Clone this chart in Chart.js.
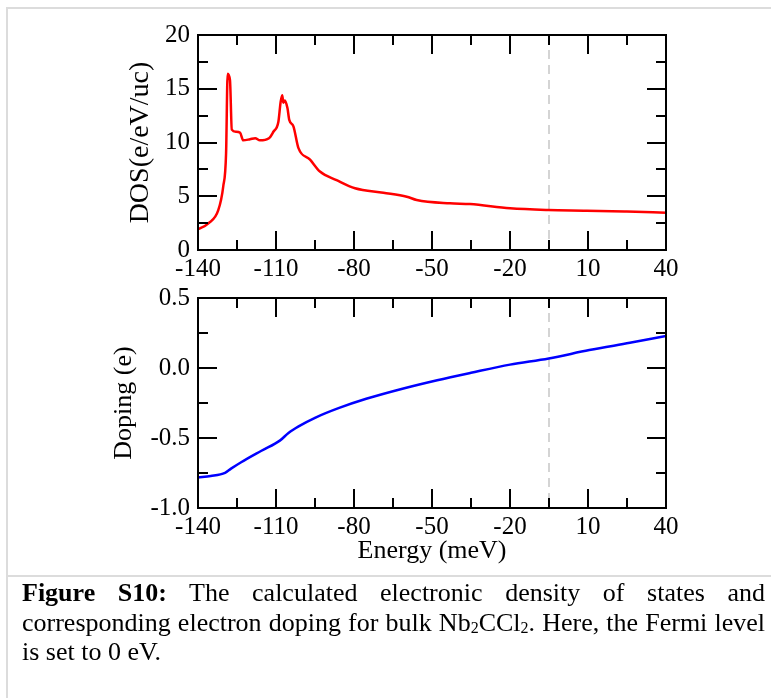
<!DOCTYPE html>
<html>
<head>
<meta charset="utf-8">
<script src="https://cdn.jsdelivr.net/npm/chart.js@4.4.0/dist/chart.umd.min.js"></script>
<style>
body{margin:0;background:#fff;width:771px;height:698px;overflow:hidden;position:relative;font-family:"Liberation Serif",serif;}
#frame{position:absolute;left:6px;top:7px;width:765px;height:700px;border-left:2px solid #dcdcdc;border-top:2px solid #dcdcdc;}
#sep{position:absolute;left:6px;top:575px;width:765px;border-top:2px solid #dcdcdc;}
canvas{position:absolute;left:0;}
#dosChart{top:0;}
#dopChart{top:275px;}
#caption{position:absolute;left:22px;top:578px;width:743px;font-size:26px;line-height:29.5px;color:#000;}
#caption div{white-space:nowrap;}
#caption .j{text-align:justify;text-align-last:justify;white-space:normal;}
#caption sub{font-size:16px;vertical-align:-2px;line-height:0;}
</style>
</head>
<body>
<div id="frame"></div>
<canvas id="dosChart" width="771" height="285"></canvas>
<canvas id="dopChart" width="771" height="300"></canvas>
<div id="sep"></div>
<div id="caption">
  <div class="j"><b>Figure S10:</b> The calculated electronic density of states and</div>
  <div class="j">corresponding electron doping for bulk Nb<sub>2</sub>CCl<sub>2</sub>. Here, the Fermi level</div>
  <div>is set to 0 eV.</div>
</div>
<script>
// x axis (meV)
const xTicks = [-140, -110, -80, -50, -20, 10, 40];
const fermiEnergy = -5;

// DOS panel
const dosEnergy = [-140, -136, -132.2, -130.3, -129.2, -128.6, -127.7, -127, -125.4, -123.8,
    -122.6, -120, -118, -116.2, -112.7, -111, -109.1, -108.2, -107.6, -107.2,
    -106.6, -105.6, -104.9, -103.3, -101.4, -96.9, -93.1, -86.7, -79.6, -68.7,
    -59.7, -55.9, -43.1, -35.4, -20, -5.3, 9.5, 24.9, 40];
const dosValue = [1.93, 2.48, 3.7, 5.9, 9.0, 16.4, 15.8, 11.2, 11.0, 10.9,
    10.2, 10.3, 10.4, 10.2, 10.4, 11.0, 11.9, 13.8, 14.4, 13.7,
    13.9, 13.2, 12.1, 11.5, 9.5, 8.4, 7.3, 6.5, 5.74, 5.33,
    4.96, 4.65, 4.34, 4.28, 3.88, 3.72, 3.66, 3.57, 3.47];
const dosTicks = [0, 5, 10, 15, 20];

// Doping panel
const dopEnergy = [-140, -135.1, -129.6, -127.3, -123.4, -115.6, -108.4, -105.2, -101.3, -94.8,
    -85.7, -75.3, -61, -48, -35, -20, -5.1, 10.5, 26.1, 40];
const dopValue = [-0.782, -0.772, -0.749, -0.719, -0.673, -0.591, -0.517, -0.464, -0.417, -0.354,
    -0.285, -0.220, -0.146, -0.087, -0.034, 0.024, 0.068, 0.128, 0.180, 0.228];
const dopTicks = [-1.0, -0.5, 0.0, 0.5];

const serif = 'Liberation Serif';

// frame, inward ticks (major + minor) and the dashed Fermi line
const framePlugin = {
    id: 'framePlugin',
    beforeDatasetsDraw(chart) {
        const {ctx, chartArea: a, scales: {x}} = chart;
        const fx = x.getPixelForValue(fermiEnergy);
        ctx.save();
        ctx.strokeStyle = '#d4d4d4';
        ctx.lineWidth = 2;
        ctx.setLineDash([9, 6]);
        ctx.beginPath();
        ctx.moveTo(fx, a.top);
        ctx.lineTo(fx, a.bottom);
        ctx.stroke();
        ctx.restore();
    },
    afterDatasetsDraw(chart) {
        const {ctx, chartArea: a, scales: {x, y}} = chart;
        ctx.save();
        ctx.strokeStyle = '#000';
        ctx.lineWidth = 2;
        ctx.beginPath();
        const marks = (vals) => {
            const out = [];
            vals.forEach((v, i) => {
                out.push([v, 19]);
                if (i < vals.length - 1) out.push([(v + vals[i + 1]) / 2, 10]);
            });
            return out;
        };
        marks(x.ticks.map(t => t.value)).forEach(([v, len]) => {
            const px = Math.round(x.getPixelForValue(v));
            ctx.moveTo(px, a.bottom); ctx.lineTo(px, a.bottom - len);
            ctx.moveTo(px, a.top); ctx.lineTo(px, a.top + len);
        });
        marks(y.ticks.map(t => t.value)).forEach(([v, len]) => {
            const py = Math.round(y.getPixelForValue(v));
            ctx.moveTo(a.left, py); ctx.lineTo(a.left + len, py);
            ctx.moveTo(a.right, py); ctx.lineTo(a.right - len, py);
        });
        ctx.stroke();
        ctx.strokeRect(a.left, a.top, a.width, a.height);
        ctx.restore();
    }
};

function makePanel(id, xs, ys, color, yTicks, fmt, cfg) {
    return new Chart(document.getElementById(id), {
        type: 'line',
        data: {
            datasets: [{
                data: xs.map((e, i) => ({x: e, y: ys[i]})),
                borderColor: color,
                borderWidth: 2.5,
                pointRadius: 0,
                cubicInterpolationMode: 'monotone',
                fill: false
            }]
        },
        options: {
            responsive: false,
            animation: false,
            layout: {padding: cfg.padding},
            plugins: {legend: {display: false}, tooltip: {enabled: false}},
            scales: {
                x: {
                    type: 'linear',
                    min: xTicks[0],
                    max: xTicks[xTicks.length - 1],
                    afterBuildTicks: s => { s.ticks = xTicks.map(v => ({value: v})); },
                    afterFit: s => { s.height = cfg.xHeight; },
                    grid: {display: false, drawTicks: false},
                    border: {display: false},
                    ticks: {padding: 4, color: '#000', font: {family: serif, size: 25}, maxRotation: 0,
                        callback: v => String(v)},
                    title: {display: !!cfg.xTitle, text: cfg.xTitle, color: '#000',
                        font: {family: serif, size: 26}, padding: 0}
                },
                y: {
                    min: yTicks[0],
                    max: yTicks[yTicks.length - 1],
                    afterBuildTicks: s => { s.ticks = yTicks.map(v => ({value: v})); },
                    afterFit: s => { s.width = cfg.yWidth; },
                    grid: {display: false, drawTicks: false},
                    border: {display: false},
                    ticks: {padding: 8, color: '#000', font: {family: serif, size: 25}, callback: fmt},
                    title: {display: true, text: cfg.yTitle, color: '#000',
                        font: {family: serif, size: cfg.yTitleSize}, padding: 0}
                }
            }
        },
        plugins: [framePlugin]
    });
}

makePanel('dosChart', dosEnergy, dosValue, '#ff0000', dosTicks, v => String(v), {
    padding: {left: 124, right: 105, top: 35, bottom: 0},
    xHeight: 35, yWidth: 74, yTitle: 'DOS(e/eV/uc)', yTitleSize: 28
});

makePanel('dopChart', dopEnergy, dopValue, '#0000ff', dopTicks, v => v.toFixed(1), {
    padding: {left: 109, right: 105, top: 18, bottom: 8},
    xHeight: 59, yWidth: 89, yTitle: 'Doping (e)', yTitleSize: 26, xTitle: 'Energy (meV)'
});
</script>
</body>
</html>
